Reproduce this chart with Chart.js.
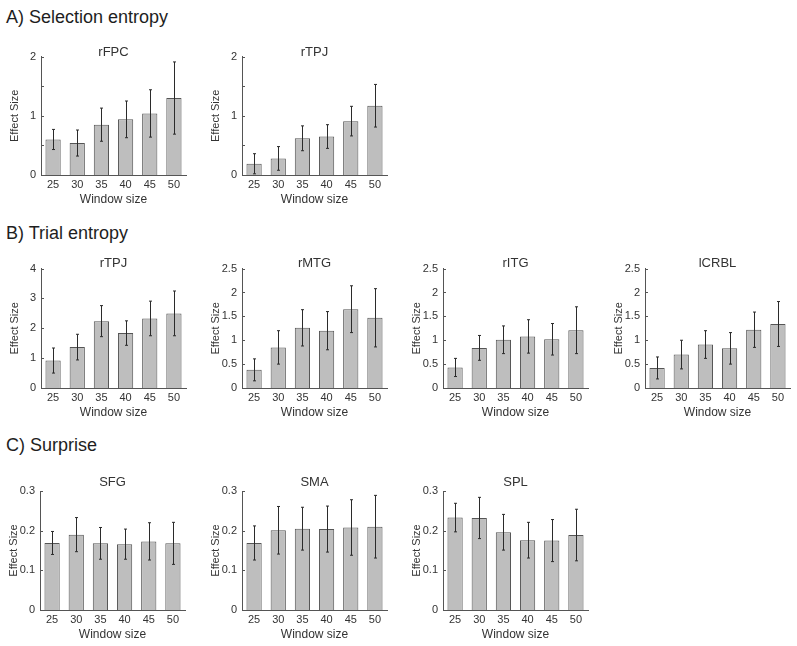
<!DOCTYPE html>
<html>
<head>
<meta charset="utf-8">
<script src="https://cdn.jsdelivr.net/npm/chart.js@4.4.0/dist/chart.umd.min.js"></script>
<style>
  body { margin: 0; background: #fff; }
  #page { position: relative; width: 797px; height: 646px; overflow: hidden; font-family: 'Liberation Sans', Arial, sans-serif; }
  .heading { position: absolute; left: 6px; font-size: 18px; line-height: 20px; color: #1e1e1e; white-space: nowrap; }
  canvas { position: absolute; }
</style>
</head>
<body>
<div id="page">
  <div class="heading" style="top:7px">A) Selection entropy</div>
  <div class="heading" style="top:223px">B) Trial entropy</div>
  <div class="heading" style="top:435px">C) Surprise</div>
</div>
<script>
const windowSizes = ['25', '30', '35', '40', '45', '50'];

// A) Selection entropy
const selRfpc = [0.60, 0.54, 0.85, 0.94, 1.04, 1.30];
const selRfpcErr = [0.17, 0.22, 0.28, 0.31, 0.40, 0.61];
const selRtpj = [0.19, 0.28, 0.62, 0.65, 0.91, 1.17];
const selRtpjErr = [0.17, 0.20, 0.21, 0.20, 0.25, 0.36];

// B) Trial entropy
const trialRtpj = [0.92, 1.37, 2.24, 1.84, 2.33, 2.50];
const trialRtpjErr = [0.42, 0.43, 0.52, 0.41, 0.58, 0.75];
const trialRmtg = [0.38, 0.85, 1.26, 1.20, 1.65, 1.47];
const trialRmtgErr = [0.23, 0.35, 0.38, 0.40, 0.49, 0.61];
const trialRitg = [0.43, 0.84, 1.01, 1.08, 1.02, 1.21];
const trialRitgErr = [0.19, 0.26, 0.29, 0.35, 0.33, 0.49];
const trialLcrbl = [0.42, 0.70, 0.91, 0.83, 1.22, 1.34];
const trialLcrblErr = [0.23, 0.30, 0.29, 0.33, 0.37, 0.47];

// C) Surprise
const surpSfg = [0.169, 0.190, 0.168, 0.166, 0.173, 0.168];
const surpSfgErr = [0.029, 0.043, 0.040, 0.038, 0.047, 0.053];
const surpSma = [0.169, 0.201, 0.205, 0.204, 0.208, 0.210];
const surpSmaErr = [0.043, 0.060, 0.054, 0.058, 0.070, 0.079];
const surpSpl = [0.233, 0.232, 0.196, 0.176, 0.175, 0.189];
const surpSplErr = [0.036, 0.052, 0.045, 0.045, 0.053, 0.065];

// layout (pixels)
const Y_AXIS_W = 34;
const X_AXIS_H = 36;
const PLOT_W = 145;
const PAD = 2;
const PAD_RIGHT = 4;

const panels = [
  { title: 'rFPC', mean: selRfpc, err: selRfpcErr, max: 2, step: 0.5, intLabels: true, axisX: 41, plotTop: 55, plotH: 120, gap: 4 },
  { title: 'rTPJ', mean: selRtpj, err: selRtpjErr, max: 2, step: 0.5, intLabels: true, axisX: 242, plotTop: 55, plotH: 120, gap: 4 },
  { title: 'rTPJ', mean: trialRtpj, err: trialRtpjErr, max: 4, step: 1, axisX: 41, plotTop: 268, plotH: 120, gap: 5 },
  { title: 'rMTG', mean: trialRmtg, err: trialRmtgErr, max: 2.5, step: 0.5, axisX: 242, plotTop: 268, plotH: 120, gap: 5 },
  { title: 'rITG', mean: trialRitg, err: trialRitgErr, max: 2.5, step: 0.5, axisX: 443, plotTop: 268, plotH: 120, gap: 5 },
  { title: 'lCRBL', mean: trialLcrbl, err: trialLcrblErr, max: 2.5, step: 0.5, axisX: 645, plotTop: 268, plotH: 120, gap: 5 },
  { title: 'SFG', mean: surpSfg, err: surpSfgErr, max: 0.3, step: 0.1, axisX: 40, plotTop: 491, plotH: 119, gap: 9 },
  { title: 'SMA', mean: surpSma, err: surpSmaErr, max: 0.3, step: 0.1, axisX: 242, plotTop: 491, plotH: 119, gap: 9 },
  { title: 'SPL', mean: surpSpl, err: surpSplErr, max: 0.3, step: 0.1, axisX: 443, plotTop: 491, plotH: 119, gap: 9 }
];

Chart.defaults.font.family = "'Liberation Sans', Arial, sans-serif";
Chart.defaults.color = '#333';

// symmetric error bars drawn from the y scale
const errorBars = {
  id: 'errorBars',
  afterDatasetsDraw(chart) {
    const { ctx } = chart;
    const yScale = chart.scales.y;
    const ds = chart.data.datasets[0];
    ctx.save();
    ctx.strokeStyle = '#2b2b2b';
    ctx.lineWidth = 1;
    chart.getDatasetMeta(0).data.forEach((bar, i) => {
      const top = yScale.getPixelForValue(ds.data[i] + ds.errors[i]);
      const bot = yScale.getPixelForValue(ds.data[i] - ds.errors[i]);
      const x = Math.round(bar.x) + 0.5;
      ctx.beginPath();
      ctx.moveTo(x, top); ctx.lineTo(x, bot);
      ctx.moveTo(x - 1.5, top); ctx.lineTo(x + 1.5, top);
      ctx.moveTo(x - 1.5, bot); ctx.lineTo(x + 1.5, bot);
      ctx.stroke();
    });
    ctx.restore();
  }
};

// matlab style ticks pointing into the axes
const innerTicks = {
  id: 'innerTicks',
  afterDraw(chart) {
    const { ctx, chartArea } = chart;
    const yScale = chart.scales.y;
    ctx.save();
    ctx.strokeStyle = '#555';
    ctx.lineWidth = 1;
    yScale.ticks.forEach((t, i) => {
      const py = Math.round(yScale.getPixelForTick(i)) + 0.5;
      ctx.beginPath();
      ctx.moveTo(chartArea.left, py);
      ctx.lineTo(chartArea.left + 3, py);
      ctx.stroke();
    });
    ctx.restore();
  }
};

// "2", "1.5", "1", "0.5" like matlab; row A only labels whole numbers
const tickText = (v, intOnly) => {
  if (intOnly && !Number.isInteger(v)) return '';
  return String(Number(v.toFixed(3)));
};

const page = document.getElementById('page');

panels.forEach(p => {
  const titleBox = p.gap + 4;
  const canvas = document.createElement('canvas');
  canvas.width = Y_AXIS_W + PLOT_W + PAD_RIGHT;
  canvas.height = PAD + titleBox + p.plotH + X_AXIS_H + PAD;
  canvas.style.left = (p.axisX - Y_AXIS_W) + 'px';
  canvas.style.top = (p.plotTop - titleBox - PAD) + 'px';
  page.appendChild(canvas);

  new Chart(canvas.getContext('2d'), {
    type: 'bar',
    data: {
      labels: windowSizes,
      datasets: [{
        data: p.mean,
        errors: p.err,
        backgroundColor: '#bebebe',
        borderColor: '#555',
        borderWidth: 1,
        barPercentage: 0.63,
        categoryPercentage: 1
      }]
    },
    options: {
      responsive: false,
      devicePixelRatio: 1,
      animation: false,
      layout: { padding: { top: PAD, bottom: PAD, left: 0, right: PAD_RIGHT } },
      plugins: {
        legend: { display: false },
        tooltip: { enabled: false },
        title: {
          display: true,
          fullSize: false,
          text: p.title,
          color: '#333',
          font: { size: 13, weight: 'normal', lineHeight: 8 / 13 },
          padding: { top: 0, bottom: p.gap - 4 }
        }
      },
      scales: {
        x: {
          type: 'category',
          offset: true,
          afterFit: s => { s.height = X_AXIS_H; },
          grid: { display: false, drawTicks: false },
          border: { display: true, color: '#555', width: 1 },
          ticks: { padding: 3, color: '#333', font: { size: 11 }, maxRotation: 0, autoSkip: false },
          title: { display: true, text: 'Window size', color: '#333', font: { size: 12 }, padding: { top: 0, bottom: 4 } }
        },
        y: {
          min: 0,
          max: p.max,
          afterFit: s => { s.width = Y_AXIS_W; },
          grid: { display: false, drawTicks: false },
          border: { display: true, color: '#555', width: 1 },
          ticks: {
            stepSize: p.step, padding: 5, color: '#333', font: { size: 11 }, autoSkip: false,
            callback: v => tickText(v, p.intLabels)
          },
          title: { display: true, text: 'Effect Size', color: '#333', font: { size: 11 }, padding: { top: 1, bottom: 0 } }
        }
      }
    },
    plugins: [errorBars, innerTicks]
  });
});
</script>
</body>
</html>
